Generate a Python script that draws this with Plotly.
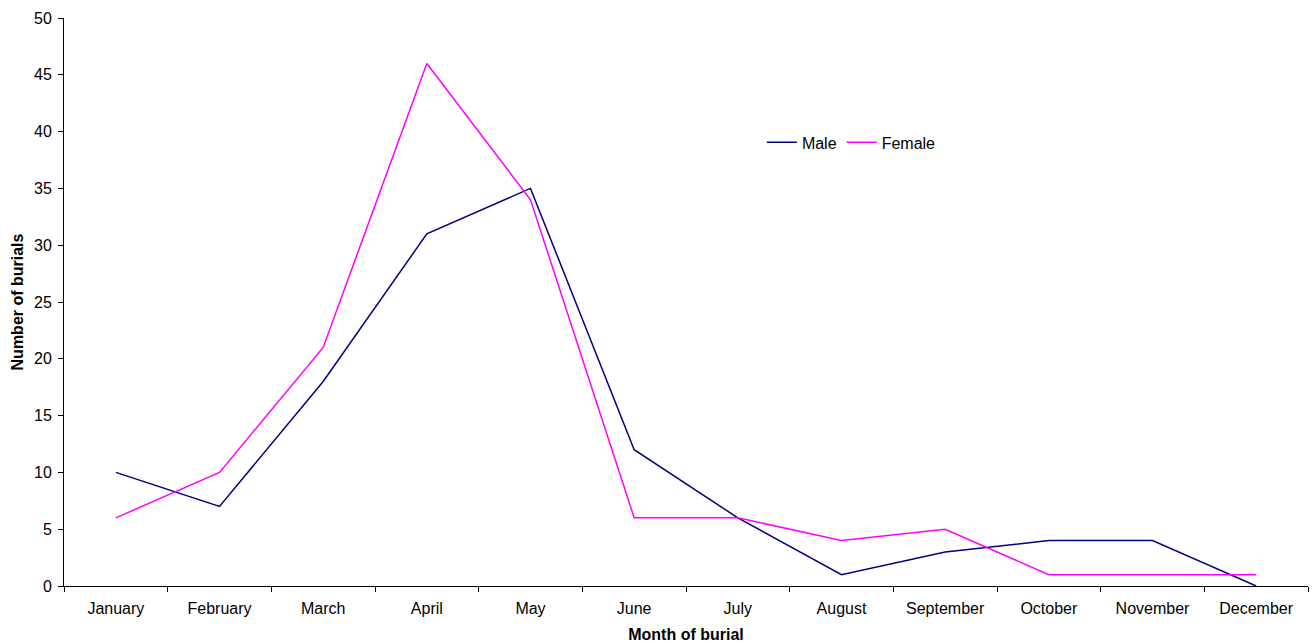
import plotly.graph_objects as go

months = ["January", "February", "March", "April", "May", "June", "July",
          "August", "September", "October", "November", "December"]
male = [10, 7, 18, 31, 35, 12, 6, 1, 3, 4, 4, 0]
female = [6, 10, 21, 46, 34, 6, 6, 4, 5, 1, 1, 1]

FONT = dict(family="Liberation Sans, Arial, sans-serif", size=16, color="#000000")

fig = go.Figure()
fig.add_trace(go.Scatter(x=months, y=male, mode="lines", name="Male",
                         line=dict(color="#000080", width=1.5)))
fig.add_trace(go.Scatter(x=months, y=female, mode="lines", name="Female",
                         line=dict(color="#FF00FF", width=1.5)))

fig.update_layout(
    width=1312, height=643,
    paper_bgcolor="white", plot_bgcolor="white",
    font=FONT,
    margin=dict(l=64, r=4, t=18, b=57),
    legend=dict(orientation="h", x=0.561, y=0.781, xanchor="left", yanchor="middle",
                bgcolor="rgba(0,0,0,0)", font=dict(size=16), itemwidth=30,
                tracegroupgap=0),
)
fig.update_xaxes(
    type="category", range=[-0.5, 11.5], tickson="boundaries",
    ticks="outside", ticklen=5, tickcolor="black", ticklabelstandoff=8,
    showline=True, linecolor="black", linewidth=1, showgrid=False,
    title=dict(text="<b>Month of burial</b>", font=dict(size=16), standoff=12),
)
fig.update_yaxes(
    range=[0, 50], dtick=5, ticks="outside", ticklen=5, tickcolor="black",
    ticklabelstandoff=3,
    showline=True, linecolor="black", linewidth=1, showgrid=False, zeroline=False,
    title=dict(text="<b>Number of burials</b>", font=dict(size=16), standoff=6),
)

fig.write_html("out.html", config={"displayModeBar": False},
               post_script="document.body.style.margin='0';")
